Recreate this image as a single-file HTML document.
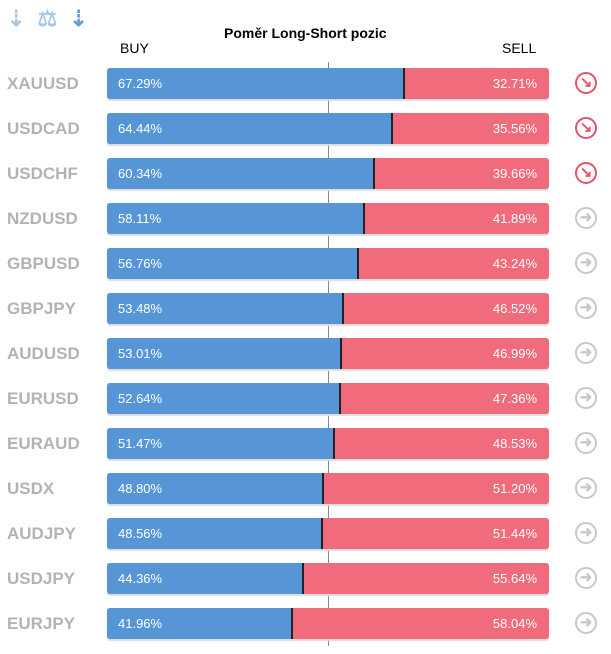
<!DOCTYPE html><html><head><style>
body{margin:0;width:611px;height:654px;background:#fff;font-family:"Liberation Sans",sans-serif;position:relative;overflow:hidden}
.t{position:absolute;font-size:14px}
.sym{position:absolute;left:7px;font-size:17px;color:#b3b3b3;font-weight:bold}
.bar{position:absolute;left:107px;width:442px;height:31px;border-radius:3px;overflow:hidden;box-shadow:0 2px 1px #ddd;background:#f06b7b}
.b{position:absolute;left:0;top:0;bottom:0;background:#5796d6;border-right:2px solid #222}
.bar span{position:absolute;top:8px;color:#fff;font-size:13px}
.ic{position:absolute;left:575px;width:18px;height:18px;border:2.5px solid;border-radius:50%}
</style></head><body>
<div style="position:absolute;left:7px;top:6px;color:#a9c6e3;font-size:22px;font-weight:bold;letter-spacing:3px">⇣ ⚖ <span style="color:#6a9bd0">⇣</span></div>
<div class="t" style="left:224px;top:25px;font-weight:bold">Poměr Long-Short pozic</div>
<div class="t" style="left:120px;top:40px">BUY</div>
<div class="t" style="left:502px;top:40px">SELL</div>
<div style="position:absolute;left:328px;top:62px;width:1px;height:584px;background:#888"></div>
<div id="rows"></div>
<script>
var d=[["XAUUSD",67.29,1],["USDCAD",64.44,1],["USDCHF",60.34,1],["NZDUSD",58.11],["GBPUSD",56.76],["GBPJPY",53.48],["AUDUSD",53.01],["EURUSD",52.64],["EURAUD",51.47],["USDX",48.80],["AUDJPY",48.56],["USDJPY",44.36],["EURJPY",41.96]];
var h="";d.forEach(function(r,i){var y=68+45*i;var w=Math.round(442*r[1]/100);
h+='<div class="sym" style="top:'+(y+6)+'px">'+r[0]+'</div><div class="bar" style="top:'+y+'px"><div class="b" style="width:'+(w-1)+'px"></div><span style="left:11px">'+r[1].toFixed(2)+'%</span><span style="right:12px">'+(100-r[1]).toFixed(2)+'%</span></div>';
var c=r[2]?'#e8526a':'#c8c8cc';
h+='<div class="ic" style="top:'+(y+4)+'px;border-color:'+c+';color:'+c+';font-size:15px;font-weight:bold;line-height:18px;text-align:center">'+(r[2]?'↘':'➜')+'</div>';});
document.getElementById('rows').innerHTML=h;
</script>
</body></html>
